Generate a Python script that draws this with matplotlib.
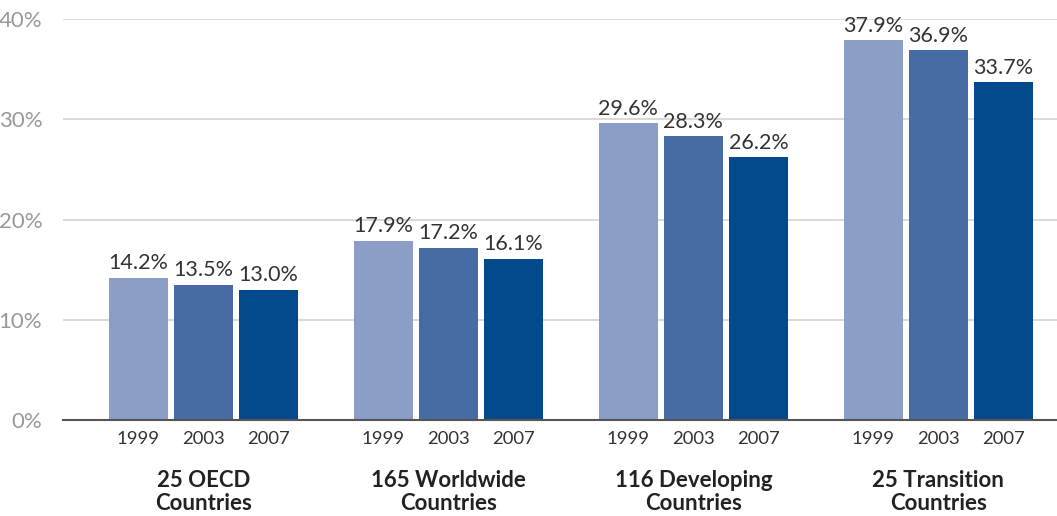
import numpy as np
import matplotlib.pyplot as plt

groups = ['25 OECD\nCountries', '165 Worldwide\nCountries',
          '116 Developing\nCountries', '25 Transition\nCountries']
years = ['1999', '2003', '2007']
val_1999 = [14.2, 17.9, 29.6, 37.9]
val_2003 = [13.5, 17.2, 28.3, 36.9]
val_2007 = [13.0, 16.1, 26.2, 33.7]
colors = ['#8a9ec7', '#476ca5', '#034a8c']

plt.rcParams['font.family'] = ['Lato', 'DejaVu Sans']

fig = plt.figure(figsize=(10.57, 5.16), dpi=100)
ax = fig.add_axes([63 / 1057, 96 / 516, 1 - 63 / 1057, 401 / 516])

x = np.arange(len(groups))
width = 59 / 245
step = 65 / 245
series = [val_1999, val_2003, val_2007]

for i, vals in enumerate(series):
    pos = x + (i - 1) * step
    ax.bar(pos, vals, width, color=colors[i], zorder=3)
    for p, v in zip(pos, vals):
        ax.text(p, v + 0.45, f'{v:.1f}%', ha='center', va='bottom',
                fontsize=15.5, color='#333333')
        ax.text(p, -1.1, years[i], ha='center', va='top',
                fontsize=13.3, color='#333333')

for g, name in zip(x, groups):
    ax.text(g, -5.0, name, ha='center', va='top', fontsize=16,
            fontweight='bold', color='#222222', linespacing=1.1)

ax.set_xlim(-0.573, 3.484)
ax.set_ylim(0, 40)
ax.set_yticks([0, 10, 20, 30, 40])
ax.set_yticklabels(['0%', '10%', '20%', '30%', '40%'])
ax.tick_params(axis='y', length=0, labelsize=16, labelcolor='#999999', pad=15)
ax.set_xticks([])
ax.grid(axis='y', color='#d3d3d3', linewidth=1.2, zorder=0)
for s in ['top', 'right', 'left']:
    ax.spines[s].set_visible(False)
ax.spines['bottom'].set_color('#555555')
ax.spines['bottom'].set_linewidth(1.5)
ax.spines['bottom'].set_zorder(4)

fig.savefig('out.png', dpi=100)
